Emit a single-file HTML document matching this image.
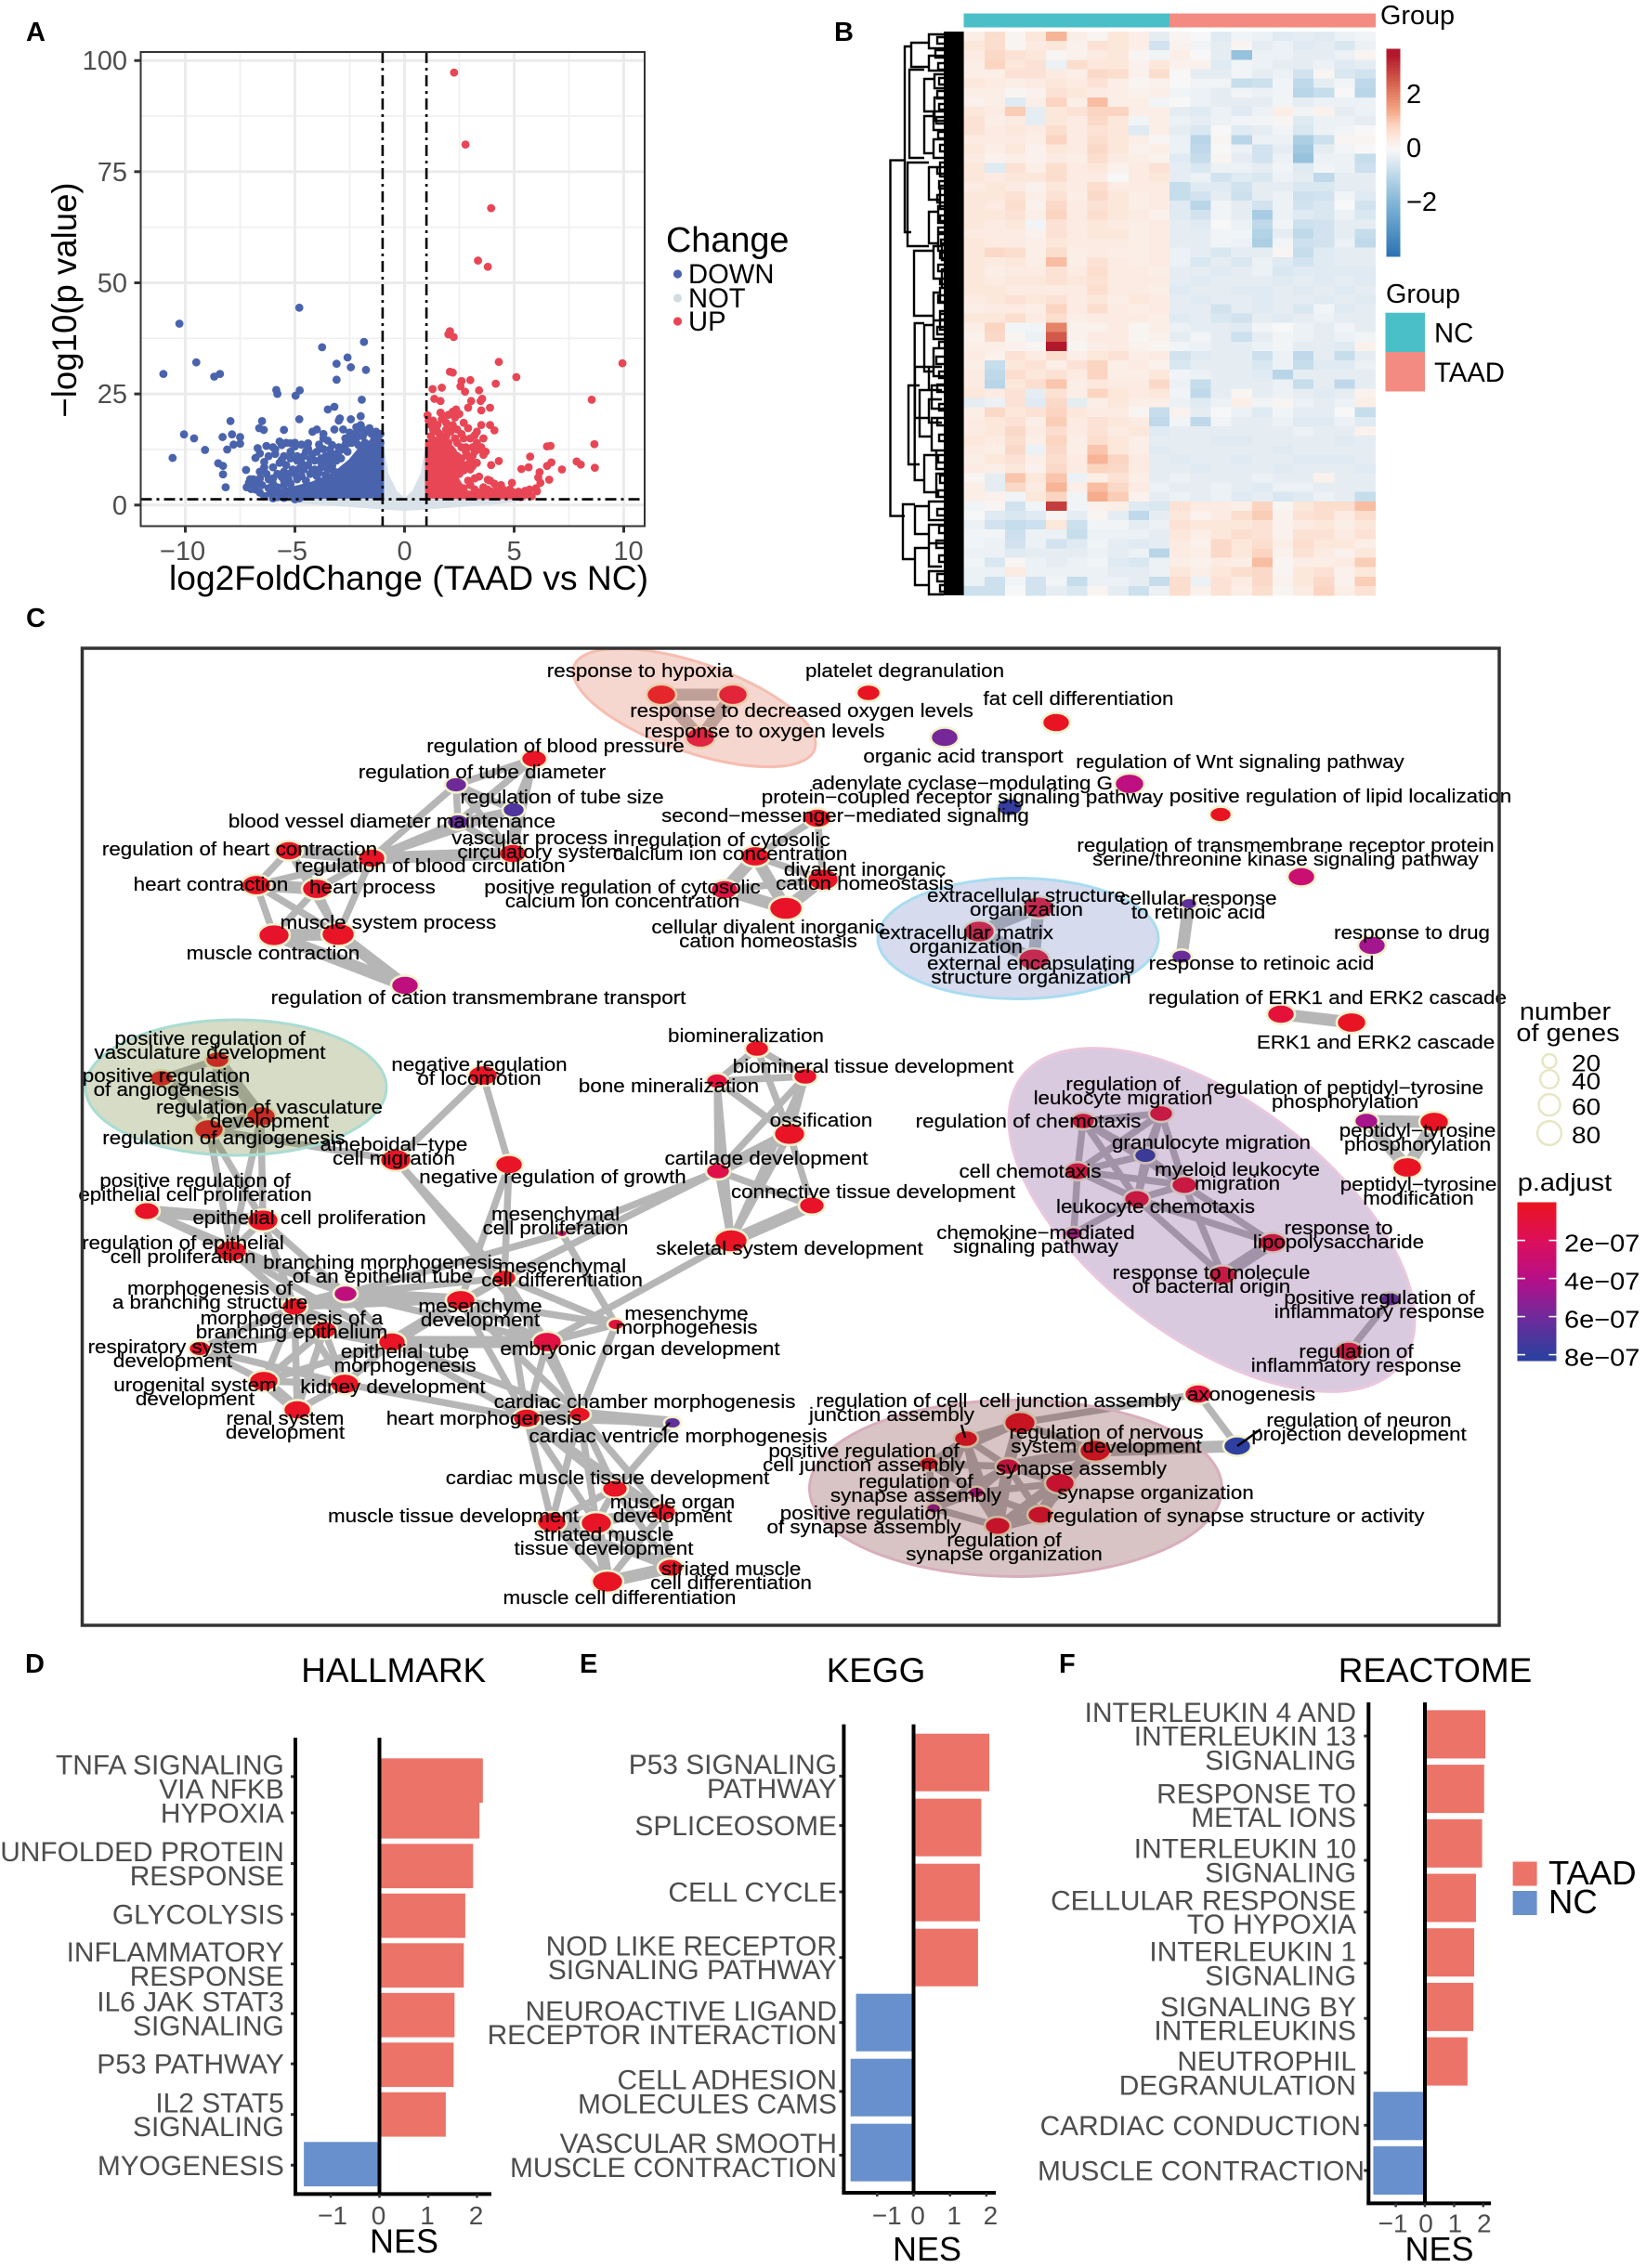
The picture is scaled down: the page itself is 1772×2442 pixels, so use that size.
<!DOCTYPE html>
<html lang="en">
<head>
<meta charset="utf-8">
<title>TAAD vs NC transcriptomic analysis figure</title>
<style>
html,body{margin:0;padding:0;background:#fff}
svg{display:block;font-family:"Liberation Sans",sans-serif}
</style>
</head>
<body>
<svg id="fig" xmlns="http://www.w3.org/2000/svg" width="1772" height="2442" viewBox="0 0 1772 2442">
<rect x="0" y="0" width="1772" height="2442" fill="#fff"/>
</svg>
<script>
/* ---------- PANEL A DATA: log2FC, -log10(p) ---------- */
const volcanoXTicks=[-10,-5,0,5,10];
const volcanoXMinor=[-7.5,-2.5,2.5,7.5];
const volcanoYTicks=[0,25,50,75,100];
const volcanoYMinor=[12.5,37.5,62.5,87.5];
const notFC=[-6,-4,-2,0,2,4,5.5,1,1,.8,.4,0,-.4,-.8,-1,-1];
const notP=[1.2,.4,-.3,-1,-.3,.4,1.2,1.5,13,7,3,1.2,3,7,13,1.5];
const downMassFC=[-1,-1,-1.5,-2,-2.5,-3,-3.5,-4.2,-5,-6,-6.6,-4];
const downMassP=[1.8,14,14.5,13,10,8,6.5,5,4,3,2.2,1.7];
const upMassFC=[1,1,1.3,1.7,2.2,2.6,2.4,2.8,4.5,5.5,3];
const upMassP=[1.8,14,15,15,13,10,6,3,2.3,1.6,1.6];
const downPoints=[[-4.8,44.4],[-10.27,40.8],[-1.85,36.7],[-3.76,35.5],[-2.6,33.2],[-3.1,31.8],[-9.5,32.1],[-2.45,31],[-1.76,30.4],[-11,29.5],[-8.42,29.5],[-8.68,28.9],[-3.1,28.2],[-5.85,25.9],[-5.8,25],[-4.78,25.8],[-4.97,24.6],[-1.95,23.7],[-3.2,22.1],[-3.5,21.5],[-2,20],[-2.45,19.3],[-2.95,19.5],[-4.8,19.3],[-7.94,18.9],[-6.5,18.9],[-6.63,17.3],[-6.42,16.9],[-5.5,16.9],[-10.06,15.9],[-9.6,15],[-8.3,15.3],[-7.87,15.9],[-7.5,15.3],[-7.5,13.8],[-7.8,13.6],[-8.09,12.5],[-9.1,12.4],[-10.58,10.6],[-8.5,9.4],[-8.28,8.8],[-8.28,6.9],[-8.16,4],[-7.23,7.9],[-7.04,5.8],[-6.7,12.8],[-6.3,13.3],[-6.6,11.6],[-6,13],[-5.7,14.3],[-5.4,14],[-5.2,13.9],[-5,13.2],[-4.7,13.6],[-4.4,13.9],[-4.2,16.5],[-4,17],[-3.7,16],[-3.5,14.5],[-3.2,17],[-3,19],[-2.8,17],[-2.5,16.3],[-2.2,17.5],[-2,18],[-3.7,15],[-3.4,12.5],[-3,13],[-3,12],[-2.7,13.6],[-2.4,14],[-2.2,15],[-1.9,15.5],[-1.7,16.5],[-1.5,16],[-1.2,15],[-6.2,11],[-5.9,11.5],[-5.5,11],[-5.2,10.5],[-4.9,11],[-4.5,12],[-4.2,11.5],[-4,12],[-3.8,10.5],[-3.4,10],[-3.1,10],[-6.4,8.5],[-6,8.5],[-5.7,9.5],[-5.4,9],[-5.1,8],[-4.7,9.5],[-4.4,9],[-4.1,8],[-3.8,8.5],[-3.5,8],[-6.9,5.8],[-6.6,6],[-6.2,5.8],[-6,6],[-5.6,6.3],[-5.3,7],[-5,7],[-4.7,6.5],[-4.3,7],[-4,6.5],[-7.1,5],[-6.8,4.6],[-6.5,4.5],[-6.2,3.8],[-5.8,4],[-5.5,4.5],[-5.2,4.8],[-6.4,2],[-6,1.5],[-5.8,1.8],[-5.5,1.6],[-5,1.3],[-4.8,1.5],[-6.8,3.5],[-5,14],[-5.6,13.5],[-5.9,12.5],[-4.4,12.7],[-3.6,11],[-3.3,8.8],[-2.9,10.5],[-2.6,12],[-3.2,7.5],[-4.5,5.5],[-5.2,3],[-6.1,2.6],[-1.1,14],[-1.4,14.5],[-1.8,14],[-2.1,13.5],[-6.6,2.8],[-7,3.6],[-6,4.8],[-5.5,5.5],[-4.9,5.8],[-4.2,7.8],[-3.8,9.6],[-3.5,9.5],[-3.3,11.3],[-3.1,11.5],[-2.9,12.5],[-2.7,12.5],[-2.4,15.5],[-2.2,16.2],[-1.9,17],[-1.6,17.3],[-1.3,16.5],[-1.1,16],[-2.7,15],[-2.5,14],[-3.3,13.5],[-4.1,10],[-4.6,8],[-5.5,7.5],[-6.3,7],[-6.6,7.5],[-5.8,7],[-4.8,8.2],[-5.3,5.8],[-3.9,7.3],[-3.6,6.8],[-7.2,4],[-6.1,3.4],[-4.9,10],[-5.6,10.2],[-4.3,10.4],[-3.7,12.6],[-3.9,13.6],[-4.6,11],[-5.2,12],[-6.4,9.7],[-6.8,10.6]];
const upPoints=[[2.26,97.3],[2.78,81.1],[3.95,66.8],[3.35,55],[3.8,53.6],[2.07,39.1],[2,38.4],[2.24,37.8],[4.3,32.2],[9.94,31.9],[2.07,30],[2.2,29.8],[5.1,28.8],[3,28.1],[2.6,27.9],[4.16,27.3],[2.55,26.7],[1.28,26.1],[1.7,26.4],[3.4,25.8],[2.76,25.5],[8.54,23.7],[1.36,23.9],[1.64,23.4],[3.54,23.9],[3.47,23.4],[3.04,23.4],[3.9,21.9],[3.5,21.3],[2.9,21.9],[2.35,21.5],[1.64,20.8],[1.05,20.2],[8.66,13.7],[6.5,13.2],[6.66,13.3],[5.73,10.9],[7.85,9.8],[8.04,9.1],[8.68,8.4],[7.18,8],[6.7,9.6],[6.5,8.8],[5.33,8.1],[5.66,8.5],[4.3,9.9],[3.95,9],[6.6,5.7],[6.16,7.4],[6.1,6.2],[6.04,3.1],[1.1,19],[1.2,18],[1.3,17],[1.5,16.5],[1.8,20],[1.7,19.3],[2,20.3],[2.2,21],[2.3,19.7],[2.5,20.5],[2.7,18.5],[2.9,17.3],[3.5,18],[3.9,18],[4.1,16.8],[3.3,16.5],[3.2,15.7],[3.6,15],[3.3,14],[3.5,13],[3.4,12.5],[3.7,12],[3.6,11.3],[3.1,11],[2.9,11],[2.6,10.5],[2.4,11],[2.2,12],[3.3,9.5],[3.1,8.7],[3,8],[2.7,7.8],[2.5,7],[2.2,6.5],[3.4,6.4],[3.8,5.7],[3.9,5.5],[4.1,4.8],[4.4,4.5],[4.9,5],[4.5,3.5],[4.8,3.5],[5.2,3],[5.4,2.5],[5.8,2],[5.7,3.5],[6,3.8],[6.2,5],[5.6,2.4],[4,3],[3.5,3],[3.2,3.5],[3,4.5],[2.7,3.8],[2.4,3.4],[2.1,4],[2.6,16],[2.3,15],[2,14],[2.8,13],[1.9,17],[2.2,18],[3,15],[4.2,3.2],[4.7,2.4],[5,2],[5.3,1.8],[3.7,2.6],[4.9,3],[5.5,3.2],[1.2,15.5],[1.4,14.5],[1.6,16],[1.9,15.5],[2.1,16.5],[2.4,14],[2.6,13],[2.8,12],[1.3,19],[1.5,18],[1.9,18.5],[2.4,17],[2.7,15],[3.1,13],[3.2,12],[3,9.8],[2.8,9],[2.6,8.8],[3.2,6],[2.9,5.5],[3.6,4],[3.8,3.5],[4.3,2.6]];

/* ---------- PANEL B DATA: z-score x10, rows top to bottom, 20 samples ---------- */
const heatGroups=["NC","NC","NC","NC","NC","NC","NC","NC","NC","NC","TAAD","TAAD","TAAD","TAAD","TAAD","TAAD","TAAD","TAAD","TAAD","TAAD"];
const heatColorTicks=[2,0,-2];
const heatRows=[
[3,7,1,5,13,3,1,5,3,-3,1,0,-4,-1,-2,-4,-3,-4,-2,-1],
[5,7,1,4,5,2,6,5,3,-6,2,-1,-3,1,-3,-2,-4,-3,-5,-2],
[4,8,6,5,1,2,4,5,1,-1,3,0,-3,-16,-2,-2,-3,-3,-2,1],
[3,9,5,6,-2,7,5,5,2,5,2,2,-4,-1,-2,-3,-3,-2,-4,-3],
[3,3,6,6,4,3,8,7,2,7,0,-3,-3,-1,-3,-2,-6,1,-5,-6],
[5,4,3,4,5,4,6,3,1,2,0,-1,-1,-8,-7,-1,-9,-3,-1,-9],
[3,3,1,2,6,5,4,3,2,3,-1,-2,-3,-1,-2,-1,-10,-8,0,-10],
[2,3,-4,3,9,3,12,3,3,-1,0,-2,-3,-3,-3,-1,-3,-2,-2,-2],
[5,4,10,-3,5,6,9,9,3,3,-3,-4,-2,-4,-2,3,-1,2,-3,-2],
[6,3,4,-3,5,4,8,5,-1,3,-2,-3,-2,-1,-1,1,-4,-2,-2,-3],
[6,4,5,4,7,4,6,5,-4,3,-3,-5,0,-4,-3,-1,-5,-2,-1,0],
[4,4,4,3,9,4,7,5,3,1,-2,-10,1,-10,-2,-2,-12,-7,1,1],
[5,3,5,2,5,4,8,5,2,3,-2,-9,0,-2,-6,-3,-14,-3,-1,0],
[4,2,3,2,4,3,7,4,3,2,-4,-8,1,-3,-6,-2,-16,-2,-2,-8],
[5,-4,6,3,7,4,5,2,4,6,-3,-5,-2,-2,-3,-1,-4,-1,-2,-7],
[5,4,5,5,7,4,4,0,4,5,-3,-2,-6,-4,-5,-2,-3,-9,-3,-3],
[4,5,4,2,5,4,7,4,4,4,-8,-4,-4,-6,-3,-3,-5,-5,-3,-3],
[5,5,6,3,6,3,8,5,3,4,-8,-6,-3,-7,-3,-2,-7,-6,-1,-4],
[5,4,7,2,8,4,6,5,3,4,-4,-10,-1,-3,-6,-2,-6,-5,0,-6],
[5,5,6,3,9,4,7,5,4,2,-4,-6,-1,-3,-13,-2,-4,-5,-2,-5],
[5,4,5,-1,6,4,5,4,3,4,-3,-4,0,-2,-9,-1,-7,-6,-3,-3],
[4,4,4,2,6,4,5,5,3,4,-3,-3,-1,-1,-11,-3,-9,-6,-3,-8],
[5,4,4,3,5,4,4,4,3,4,-3,-3,-1,-2,-12,-1,-7,-6,-2,-9],
[5,8,7,3,7,3,4,3,3,4,-2,-3,-5,-3,-3,1,-8,-4,-3,-3],
[5,4,5,3,12,3,6,4,3,4,-2,-5,-3,-5,-2,-4,-6,-4,-3,-3],
[5,3,4,4,6,4,7,4,4,3,-3,-3,-4,-3,-2,-5,-4,-4,-4,-4],
[5,4,5,5,6,5,6,4,4,4,-3,-4,-3,-3,-3,-4,-3,-4,-3,-4],
[5,5,4,4,4,4,7,4,4,3,-4,-3,-3,-4,-4,-3,-4,-3,-4,-3],
[4,5,6,5,6,4,5,3,5,4,-3,-4,-3,-3,-4,-3,-3,-4,-3,-4],
[3,4,4,3,9,4,7,4,3,4,-3,-3,-6,-3,-4,-3,-5,-1,-4,-3],
[5,5,7,4,7,3,4,4,4,3,-4,-3,-5,-6,-3,-4,-3,-2,-3,-3],
[3,9,-1,-1,20,2,2,4,1,3,-2,-3,-3,-4,-1,0,-2,-3,-1,-3],
[2,8,1,-2,26,2,4,4,1,2,-3,-1,-3,-7,-3,-1,-2,-3,-2,-1],
[3,3,2,1,35,1,3,4,2,1,-1,-2,-3,-3,-2,-1,-3,-3,-4,2],
[4,2,6,4,7,3,5,6,3,4,-6,-4,-3,-3,-7,-2,-9,-3,-8,-3],
[3,-8,5,6,3,6,9,3,4,2,-5,-3,-3,-3,-5,-2,-8,-4,-4,-2],
[4,-9,7,5,6,4,9,3,3,5,-1,-2,-3,-3,-4,-10,-3,-3,-3,-3],
[4,-10,5,7,11,3,5,4,4,8,-2,-8,-3,-3,-3,-2,-8,-3,-9,-3],
[5,4,6,-3,6,3,9,5,4,5,-1,-9,-3,1,-3,-2,-3,-4,-3,2],
[-3,-2,6,-4,8,-3,3,5,3,3,-2,-4,-2,3,-1,1,-2,-3,-2,3],
[3,8,5,6,9,5,4,4,1,-8,2,-3,0,-2,-4,-1,-3,-3,0,-8],
[4,5,6,3,10,4,6,5,4,-9,-1,-9,-1,-3,-3,-2,-4,-4,-2,-4],
[4,5,8,4,7,4,6,4,5,-4,-3,-3,-3,-3,-3,-3,-2,-3,-3,2],
[5,4,7,3,9,3,7,5,3,-3,-3,-3,-4,-4,-3,-3,-3,-3,-4,-3],
[4,3,8,-2,8,3,11,5,3,-4,-3,-3,-3,-3,-3,-4,-3,-3,-3,-3],
[3,5,6,3,7,4,13,9,4,-3,-4,-3,-3,-4,-3,-3,-4,-4,-4,-3],
[4,3,5,2,8,4,9,8,4,-3,-3,-4,-3,-3,-3,-4,-3,-3,-3,-4],
[1,-3,11,5,11,-2,3,6,3,-3,-2,-3,-3,-3,-2,-3,-3,2,-3,-3],
[3,-3,8,4,13,3,12,8,4,-2,-3,-3,-2,-3,-4,-2,-2,-3,-3,-3],
[3,2,-1,5,9,-1,14,10,2,-3,-2,-3,-2,-4,-3,-5,-4,-2,-3,-8],
[-1,1,-6,-1,30,-1,2,3,-4,-5,6,4,4,3,9,1,5,7,7,12],
[0,-4,-5,-4,1,-3,1,-3,-9,-3,5,2,4,7,10,2,6,7,4,7],
[-2,-6,-8,-7,5,-7,-1,-1,-3,-2,6,5,5,5,6,2,4,5,3,5],
[-1,-1,-7,-2,-2,-8,-2,-2,-2,-3,5,3,5,7,6,2,6,6,4,6],
[-1,-2,-6,-2,-6,-4,-1,-3,-4,-3,4,2,8,5,7,3,7,5,5,3],
[-2,-2,-4,-3,-3,-3,-2,-3,-2,-10,4,3,8,5,9,2,6,4,2,5],
[-1,-5,1,-2,-3,-2,-1,-4,-5,-2,3,2,4,3,12,1,3,3,4,10],
[-2,-2,4,-2,-2,-2,-2,-3,-3,-2,5,3,5,7,8,1,5,6,2,5],
[-2,-7,-1,-6,-1,-8,-2,-2,-3,-8,7,-2,6,4,8,2,5,8,2,10],
[-7,-7,0,-6,-3,-5,1,-3,-7,-2,7,2,6,3,7,1,4,9,3,6]];
const dendroBrackets=[[958.5,172.6,555.6,974],[974,50,250,981],[972,543,602,985],[981,46,72,1000],[1000,37,52,1016],[1000,60,76,1016],[979,75,170,995],[995,85,120,1006],[1006,80,95,1016],[1006,105,130,1016],[995,125,165,1005],[1005,120,140,1016],[1005,150,170,1016],[977,175,265,1000],[1000,180,215,1012],[1012,175,190,1016],[1012,200,225,1016],[1000,228,262,1010],[1010,222,240,1016],[1010,250,270,1016],[984,270,340,1005],[1005,265,300,1014],[1014,262,280,1018],[1014,290,310,1018],[1005,315,345,1012],[1012,310,325,1018],[1012,335,355,1018],[984.7,348,517,995],[995,350,400,1005],[1005,345,365,1016],[1005,375,405,1016],[985,395,450,1000],[1000,395,420,1014],[1000,430,455,1014],[978,415,500,990],[990,420,470,1003],[1003,415,440,1016],[1003,450,485,1016],[995,490,530,1008],[1008,485,505,1018],[1008,510,535,1018],[985,545,575,1000],[1000,540,560,1016],[1000,565,585,1016],[985,590,630,1000],[1000,585,610,1014],[1000,615,640,1016],[1009,40,47,1016],[1007,54,62,1016],[1010,68,75,1016],[1011,84,91,1016],[1009,98,106,1016],[1011,112,118,1016],[1008,126,133,1016],[1010,142,149,1016],[1012,156,163,1016],[1009,180,187,1016],[1011,195,203,1016],[1009,210,218,1016],[1012,232,238,1016],[1010,245,252,1016],[1013,258,264,1016],[1012,272,278,1016],[1010,285,292,1016],[1012,300,306,1016],[1010,318,326,1016],[1012,338,344,1016],[1009,352,360,1016],[1011,368,375,1016],[1008,384,392,1016],[1011,400,407,1016],[1009,414,422,1016],[1011,435,442,1016],[1009,450,458,1016],[1011,468,475,1016],[1010,490,498,1016],[1012,512,520,1016],[1010,528,535,1016],[1009,548,555,1016],[1011,566,574,1016],[1008,582,590,1016],[1011,598,605,1016],[1009,618,626,1016],[1012,630,637,1016]];

/* ---------- PANEL C DATA: enrichment map (one entry per GO term, same order in each array) ---------- */
const nodeLabels=["response to hypoxia","response to decreased oxygen levels","response to oxygen levels","regulation of blood pressure","regulation of tube diameter","regulation of tube size","blood vessel diameter maintenance","vascular process in|circulatory system","regulation of heart contraction","regulation of blood circulation","heart contraction","heart process","muscle system process","muscle contraction","regulation of cation transmembrane transport","second−messenger−mediated signaling","regulation of cytosolic|calcium ion concentration","divalent inorganic|cation homeostasis","positive regulation of cytosolic|calcium ion concentration","cellular divalent inorganic|cation homeostasis","platelet degranulation","fat cell differentiation","organic acid transport","regulation of Wnt signaling pathway","adenylate cyclase−modulating G|protein−coupled receptor signaling pathway","positive regulation of lipid localization","regulation of transmembrane receptor protein|serine/threonine kinase signaling pathway","cellular response|to retinoic acid","response to retinoic acid","response to drug","regulation of ERK1 and ERK2 cascade","ERK1 and ERK2 cascade","extracellular structure|organization","extracellular matrix|organization","external encapsulating|structure organization","positive regulation of|vasculature development","positive regulation|of angiogenesis","regulation of vasculature|development","regulation of angiogenesis","negative regulation|of locomotion","biomineralization","biomineral tissue development","bone mineralization","ossification","cartilage development","connective tissue development","skeletal system development","ameboidal−type|cell migration","negative regulation of growth","positive regulation of|epithelial cell proliferation","epithelial cell proliferation","regulation of epithelial|cell proliferation","mesenchymal|cell proliferation","branching morphogenesis|of an epithelial tube","mesenchymal|cell differentiation","mesenchyme|development","morphogenesis of|a branching structure","morphogenesis of a|branching epithelium","epithelial tube|morphogenesis","embryonic organ development","mesenchyme|morphogenesis","respiratory system|development","urogenital system|development","kidney development","renal system|development","heart morphogenesis","cardiac chamber morphogenesis","cardiac ventricle morphogenesis","cardiac muscle tissue development","muscle organ|development","muscle tissue development","striated muscle|tissue development","striated muscle|cell differentiation","muscle cell differentiation","regulation of|leukocyte migration","regulation of chemotaxis","granulocyte migration","cell chemotaxis","myeloid leukocyte|migration","leukocyte chemotaxis","chemokine−mediated|signaling pathway","response to|lipopolysaccharide","response to molecule|of bacterial origin","positive regulation of|inflammatory response","regulation of|inflammatory response","regulation of peptidyl−tyrosine|phosphorylation","peptidyl−tyrosine|phosphorylation","peptidyl−tyrosine|modification","axonogenesis","regulation of neuron|projection development","cell junction assembly","regulation of cell|junction assembly","regulation of nervous|system development","positive regulation of|cell junction assembly","synapse assembly","synapse organization","regulation of|synapse assembly","positive regulation|of synapse assembly","regulation of synapse structure or activity","regulation of|synapse organization"];
const nodeLayoutX=[712,789,754,575,491,553,493,552,311,400,276,341,364,295,436,880,813,886,780,846,935,1137,1017,1216,1087,1314,1401,1280,1272,1477,1379,1455,1118,1054,1113,234,174,281,225,520,815,867,772,850,773,874,787,426,548,158,283,249,605,372,543,496,317,349,422,589,663,215,284,371,320,567,624,724,662,714,594,642,722,654,1250,1166,1233,1160,1275,1224,1156,1370,1316,1497,1452,1471,1544,1515,1290,1332,1098,1040,1179,1000,1085,1141,1051,1005,1120,1074];
const nodeLayoutY=[748,748,794,817,845,872,885,919,916,924,953,957,1006,1007,1061,881,922,947,958,978,746,778,794,844,869,877,944,973,1030,1018,1092,1101,977,1003,1033,1141,1161,1202,1216,1158,1129,1159,1164,1221,1261,1298,1336,1249,1254,1304,1314,1347,1328,1393,1376,1400,1407,1432,1445,1445,1426,1452,1487,1490,1518,1527,1523,1532,1603,1628,1639,1640,1688,1703,1199,1207,1244,1261,1276,1291,1328,1338,1373,1399,1455,1207,1208,1257,1501,1557,1532,1549,1562,1576,1579,1597,1607,1624,1631,1643];
const nodeGenes=[91,91,91,69,51,51,51,80,80,80,91,91,115,102,80,80,91,102,80,115,60,80,80,91,69,51,80,29,43,80,80,91,102,102,102,60,60,91,91,91,60,60,51,102,60,69,115,102,80,69,102,102,13,60,60,91,69,69,80,91,29,51,91,91,80,80,51,29,69,69,91,102,69,102,60,60,51,69,69,69,35,80,80,43,80,60,91,91,80,80,102,60,102,43,60,91,29,23,69,69];
const nodePadj=[.2,.8,1.2,.2,6,7,6.3,.3,.2,.2,.2,.3,.2,.4,3.5,.2,.3,.2,1.2,.3,.1,.1,5.8,3.6,7.8,.1,3,6.5,6.2,4.5,.9,.1,.5,.5,.5,.2,.2,.2,.2,.2,.2,.4,1,.2,1.4,.3,.2,.2,.2,.3,.2,.2,3,3.5,.2,.2,.2,.2,.2,1.2,.9,.4,.1,.2,.2,.2,.2,6.4,.2,.2,.2,.2,.2,.1,.6,.4,8,.4,.4,.6,3.6,.4,.6,6.4,.5,4.4,.1,.1,1,8,.2,.2,.2,.2,1.6,.9,4,5,.6,.6];
const labelSpotX=[689,863,823,598,519,605,422,582,258,463,227,401,418,294,515,910,786,931,670,827,974,1161,1037,1335,1036,1443,1384,1290,1358,1520,1429,1481,1105,1040,1110,226,179,290,241,516,803,940,720,884,825,940,850,424,595,210,333,197,598,412,605,517,226,314,436,689,739,186,210,423,307,521,694,730,654,724,488,650,787,667,1209,1107,1304,1109,1332,1244,1115,1441,1304,1485,1460,1448,1526,1527,1347,1463,1163,960,1191,930,1164,1244,986,930,1330,1081];
const labelSpotY=[729,772,794,810,838,865,891,909,921,939,959,962,1000,1033,1081,885,911,943,962,1005,729,759,821,827,850,864,917,974,1044,1011,1081,1129,971,1011,1044,1125,1165,1199,1232,1153,1122,1155,1176,1213,1254,1290,1351,1239,1274,1278,1318,1345,1314,1366,1370,1413,1394,1426,1462,1459,1421,1457,1498,1500,1534,1534,1516,1553,1598,1624,1639,1659,1696,1727,1174,1214,1237,1268,1266,1306,1334,1329,1377,1404,1462,1178,1224,1282,1508,1536,1515,1515,1549,1569,1588,1614,1602,1636,1639,1665];
const thickEdges=[[1,2],[1,3],[2,3],[8,10],[9,10],[11,12],[13,14],[14,15],[13,15],[17,19],[17,20],[18,20],[19,20],[33,34],[33,35],[34,35],[28,29],[31,32],[36,38],[38,39],[46,47],[44,45],[50,51],[54,56],[56,59],[57,58],[58,59],[54,57],[59,60],[63,65],[66,67],[67,68],[71,72],[73,74],[72,74],[82,83],[86,87],[87,88],[86,88],[90,93],[91,95],[93,95],[93,96],[96,99],[99,100],[95,100]];
const thinEdges=[[4,5],[4,6],[4,7],[4,8],[5,6],[5,7],[5,10],[5,8],[6,7],[6,8],[7,8],[7,10],[6,10],[9,11],[9,12],[9,13],[10,11],[10,12],[10,13],[11,13],[11,14],[12,13],[12,14],[16,17],[16,18],[17,18],[18,19],[36,37],[36,39],[37,38],[37,39],[39,51],[39,52],[38,51],[38,52],[39,48],[40,48],[40,49],[48,55],[48,60],[49,56],[49,55],[41,42],[41,43],[41,44],[42,43],[42,44],[42,45],[43,44],[43,45],[43,47],[42,47],[44,46],[44,47],[45,46],[45,47],[45,55],[47,60],[50,52],[50,54],[51,52],[51,57],[51,54],[52,57],[52,54],[52,58],[52,59],[54,55],[54,58],[54,59],[54,60],[55,56],[55,61],[55,59],[55,60],[56,57],[56,60],[56,61],[57,59],[57,62],[57,63],[57,64],[58,62],[58,63],[58,64],[58,65],[59,63],[59,64],[59,66],[62,63],[62,64],[63,64],[64,65],[64,66],[57,65],[60,61],[60,66],[60,67],[56,66],[56,67],[53,61],[53,54],[53,45],[55,66],[55,67],[61,67],[59,67],[66,68],[66,69],[66,70],[66,71],[66,72],[67,69],[67,70],[67,71],[67,72],[68,69],[69,70],[69,71],[69,72],[70,71],[70,72],[70,73],[71,74],[72,73],[69,73],[70,74],[71,73],[75,76],[75,77],[75,78],[75,79],[75,80],[76,77],[76,78],[76,79],[76,80],[77,78],[77,79],[77,80],[78,79],[78,80],[78,81],[79,80],[80,81],[79,82],[80,82],[80,83],[79,83],[84,85],[91,92],[91,93],[91,94],[92,94],[92,95],[92,97],[92,98],[92,100],[93,99],[93,100],[94,95],[94,97],[94,98],[95,96],[95,97],[95,98],[95,99],[96,97],[96,100],[97,98],[97,99],[97,100],[98,100],[89,91],[89,90]];
const geneLegend=[20,40,60,80];
const padjLegend=[2,4,6,8];

/* ---------- PANEL D/E/F DATA: NES ---------- */
const nesTicks=[-1,0,1,2];
const hallmarkTerms=["TNFA SIGNALING|VIA NFKB","HYPOXIA","UNFOLDED PROTEIN|RESPONSE","GLYCOLYSIS","INFLAMMATORY|RESPONSE","IL6 JAK STAT3|SIGNALING","P53 PATHWAY","IL2 STAT5|SIGNALING","MYOGENESIS"];
const hallmarkNES=[2.12,2.05,1.92,1.76,1.73,1.54,1.52,1.36,-1.55];
const hallmarkRows=[.28,1,2,3,4,5,6,7,8];
const hallmarkLabelRows=[.2,.93,1.95,2.97,3.97,4.97,5.98,7,8.02];
const keggTerms=["P53 SIGNALING|PATHWAY","SPLICEOSOME","CELL CYCLE","NOD LIKE RECEPTOR|SIGNALING PATHWAY","NEUROACTIVE LIGAND|RECEPTOR INTERACTION","CELL ADHESION|MOLECULES CAMS","VASCULAR SMOOTH|MUSCLE CONTRACTION"];
const keggNES=[2.08,1.86,1.82,1.77,-1.58,-1.73,-1.73];
const keggRows=[0,1,2,3,4,5,6];
const keggLabelRows=[.21,.97,1.99,3,4,5.06,6.04];
const reactomeTerms=["INTERLEUKIN 4 AND|INTERLEUKIN 13|SIGNALING","RESPONSE TO|METAL IONS","INTERLEUKIN 10|SIGNALING","CELLULAR RESPONSE|TO HYPOXIA","INTERLEUKIN 1|SIGNALING","SIGNALING BY|INTERLEUKINS","NEUTROPHIL|DEGRANULATION","CARDIAC CONDUCTION","MUSCLE CONTRACTION"];
const reactomeNES=[2.07,2.03,1.96,1.75,1.69,1.66,1.46,-1.77,-1.77];
const reactomeRows=[0,1,2,3,4,5,6,7,8];
const reactomeLabelRows=[.03,1.3,2.31,3.26,4.2,5.21,6.21,7.17,8];

/* ---------- helpers ---------- */
const NS='http://www.w3.org/2000/svg';
const svg=document.getElementById('fig');
function mk(tag,attrs,parent){
  const el=document.createElementNS(NS,tag);
  for(const k in attrs)el.setAttribute(k,attrs[k]);
  (parent||svg).appendChild(el);
  return el;
}
function group(name,parent){
  const g=mk('g',{},parent);
  
  
  return g;
}
function line(name,x1,y1,x2,y2,stroke,w,dash,parent){
  const a={x1:x1,y1:y1,x2:x2,y2:y2,stroke:stroke,'stroke-width':w};
  if(dash)a['stroke-dasharray']=dash;
  const el=mk('line',a,parent);
  
  
  return el;
}
function label(name,str,x,y,size,anchor,fill,sy,parent,extra){
  const a={transform:'translate('+x+','+y+') scale(1,'+(sy||1)+')','font-size':size,'text-anchor':anchor||'start',fill:fill||'#000'};
  if(extra)for(const k in extra)a[k]=extra[k];
  const el=mk('text',a,parent);
  el.textContent=str;
  
  
  return el;
}
function slug(s){return s.toLowerCase().replace(/[^a-z0-9]+/g,'-').replace(/^-|-$/g,'');}
function hexLerp(stops,v){
  if(v<=stops[0][0])return stops[0][1];
  for(let i=1;i<stops.length;i++){
    if(v<=stops[i][0]){
      const t=(v-stops[i-1][0])/(stops[i][0]-stops[i-1][0]);
      const a=stops[i-1][1],b=stops[i][1];
      let out='rgb(';
      for(let c=0;c<3;c++){
        const p=parseInt(a.substr(1+c*2,2),16),q=parseInt(b.substr(1+c*2,2),16);
        out+=Math.round(p+(q-p)*t)+(c<2?',':')');
      }
      return out;
    }
  }
  return stops[stops.length-1][1];
}

/* panel letters */
[["A",28,44],["B",898,44],["C",28,675],["D",27,1801],["E",624,1801],["F",1140,1801]].forEach(function(p){
  label('panel-label-'+p[0].toLowerCase(),p[0],p[1],p[2],29,'start','#000',1,svg,{'font-weight':'bold'});
});

/* ---------- PANEL A ---------- */
(function(){
  const g=group('volcano-plot');
  const X=function(v){return 435.5+v*23.6;};
  const Y=function(v){return 543.8-v*4.786;};
  const L=151.5,R=694,T=56,B=566.5;
  const frameBg=mk('rect',{x:L,y:T,width:R-L,height:B-T,fill:'#fff'},g);
  
  
  volcanoXMinor.forEach(function(v){line('volcano-x-gridline-minor',X(v),T,X(v),B,'#efefef',1.6,null,g);});
  volcanoYMinor.forEach(function(v){line('volcano-y-gridline-minor',L,Y(v),R,Y(v),'#efefef',1.6,null,g);});
  volcanoXTicks.forEach(function(v){line('volcano-x-gridline',X(v),T,X(v),B,'#ebebeb',3,null,g);});
  volcanoYTicks.forEach(function(v){line('volcano-y-gridline',L,Y(v),R,Y(v),'#ebebeb',3,null,g);});
  function poly(name,xs,ys,fill){
    const el=mk('polygon',{points:xs.map(function(x,i){return X(x)+','+Y(ys[i]);}).join(' '),fill:fill,stroke:fill,'stroke-width':3,'stroke-linejoin':'round'},g);
    
    
  }
  poly('not-significant-cloud',notFC,notP,'#d9e1e9');
  poly('down-dense-cloud',downMassFC,downMassP,'#4a63ad');
  poly('up-dense-cloud',upMassFC,upMassP,'#e84655');
  downPoints.forEach(function(p){
    const c=mk('circle',{cx:X(p[0]),cy:Y(p[1]),r:4.4,fill:'#4a63ad'},g);
    
    
  });
  upPoints.forEach(function(p){
    const c=mk('circle',{cx:X(p[0]),cy:Y(p[1]),r:4.4,fill:'#e84655'},g);
    
    
  });
  line('fold-change-threshold-left',X(-1),T,X(-1),B,'#000',2.6,'12 5 3 5',g);
  line('fold-change-threshold-right',X(1),T,X(1),B,'#000',2.6,'12 5 3 5',g);
  line('p-value-threshold',L,Y(1.3),R,Y(1.3),'#000',2.6,'12 5 3 5',g);
  const fr=mk('rect',{x:L,y:T,width:R-L,height:B-T,fill:'none',stroke:'#333','stroke-width':2},g);
  
  
  volcanoYTicks.forEach(function(v){
    line('volcano-y-tick',L-7,Y(v),L,Y(v),'#333',3,null,g);
    label('volcano-y-tick-label',String(v),137,Y(v)+10,29,'end','#4d4d4d',1,g);
  });
  volcanoXTicks.forEach(function(v){
    line('volcano-x-tick',X(v),B,X(v),B+7,'#333',3,null,g);
    label('volcano-x-tick-label',String(v).replace('-','−'),X(v)+(v<0?-3:0)+(v===10?5:0),603,29,'middle','#4d4d4d',1,g);
  });
  label('volcano-x-axis-title','log2FoldChange (TAAD vs NC)',440,635,37.2,'middle','#000',1,g);
  const yt=mk('text',{transform:'translate(82,323) rotate(-90)','font-size':36.6,'text-anchor':'middle',fill:'#000'},g);
  yt.textContent='−log10(p value)';
  
  
  label('volcano-legend-title','Change',717,271,37.8,'start','#000',1,g);
  [['DOWN','#4a63ad',295],['NOT','#d3dbe3',321],['UP','#e84655',346]].forEach(function(e){
    const c=mk('circle',{cx:729.5,cy:e[2],r:4.6,fill:e[1]},g);
    
    
    label('volcano-legend-label',e[0],741,e[2]+10,29.2,'start','#000',1,g);
  });
})();

/* ---------- PANEL B ---------- */
(function(){
  const g=group('expression-heatmap');
  const L=1037.6,R=1480.7,T=34,B=641;
  const cw=(R-L)/heatGroups.length,rh=(B-T)/heatRows.length;
  const groupColor={NC:'#4abfc7',TAAD:'#f48b82'};
  const stops=[[-4,'#2a71b2'],[-2,'#7fb4d6'],[-1,'#b9d6e8'],[-.4,'#dfeaf2'],[0,'#f7f7f7'],[.4,'#fcebe2'],[.9,'#fbd5c1'],[1.5,'#f4a582'],[2.5,'#d6604d'],[3.5,'#b2182b']];
  heatGroups.forEach(function(gr,i){
    const r=mk('rect',{x:L+i*cw,y:14.3,width:cw+.3,height:15.2,fill:groupColor[gr],'shape-rendering':'crispEdges'},g);
    
    
  });
  heatRows.forEach(function(row,ri){
    row.forEach(function(v,ci){
      const r=mk('rect',{x:L+ci*cw,y:T+ri*rh,width:cw+.3,height:rh+.3,fill:hexLerp(stops,v/10),'shape-rendering':'crispEdges'},g);
      
      
    });
  });
  const dg=group('gene-dendrogram',g);
  const blk=mk('rect',{x:1016,y:T,width:L-1016,height:B-T,fill:'#000'},dg);
  
  
  let d='';
  dendroBrackets.forEach(function(b){d+='M'+b[3]+' '+b[1]+'H'+b[0]+'V'+b[2]+'H'+b[3];});
  const dp=mk('path',{d:d,fill:'none',stroke:'#000','stroke-width':2.4},dg);
  
  
  label('annotation-group-label','Group',1486,26,28.8,'start','#000',1,g);
  const cbY=function(z){return 160-z*29;};
  for(let z=3.7;z>-4;z-=.1){
    const r=mk('rect',{x:1492.6,y:cbY(z),width:14.8,height:3.3,fill:hexLerp(stops,z),'shape-rendering':'crispEdges'},g);
    
    
  }
  heatColorTicks.forEach(function(t){
    label('colorbar-tick-label',String(t).replace('-','−'),1514,cbY(t)+9,29,'start','#000',1,g);
  });
  label('group-legend-title','Group',1492,326,28.8,'start','#000',1,g);
  [['NC',336.7,358.6],['TAAD',379,401]].forEach(function(e){
    const r=mk('rect',{x:1491.5,y:e[1],width:42.5,height:42.5,fill:groupColor[e[0]]},g);
    
    
    label('group-legend-label',e[0],1544,e[2]+10,29.3,'start','#000',1,g);
  });
})();

/* ---------- PANEL C ---------- */
(function(){
  const g=group('enrichment-map');
  const gx=function(v){return v;};
  const gy=function(v){return v;};
  const radius=function(n){return 1.68*Math.sqrt(n);};
  const padjStops=[[0,'#ea1420'],[2,'#dc0f5a'],[4,'#b50f88'],[6,'#6f2a9a'],[8,'#2e3f9f']];
  const bg=mk('rect',{x:88.5,y:698,width:1525.5,height:1052,fill:'#fff'},g);
  
  
  function edge(pair,w){
    const a=pair[0]-1,b=pair[1]-1;
    const el=line('network-edge',gx(nodeLayoutX[a]),gy(nodeLayoutY[a]),gx(nodeLayoutX[b]),gy(nodeLayoutY[b]),'#b6b6b6',w,null,g);
    el.setAttribute('stroke-linecap','round');
  }
  thinEdges.forEach(function(p){edge(p,7.5);});
  thickEdges.forEach(function(p){edge(p,13);});
  nodeLabels.forEach(function(t,i){
    const rx=radius(nodeGenes[i]);
    const n=mk('ellipse',{cx:gx(nodeLayoutX[i]),cy:gy(nodeLayoutY[i]),rx:rx,ry:rx*.7,fill:hexLerp(padjStops,nodePadj[i]),stroke:'#f1f2cc','stroke-width':2.6},g);
    
    
  });
  [
    ['cluster-hypoxia',747.5,762,137,48,19,'rgb(219,95,63)','#f6bdb0'],
    ['cluster-extracellular-matrix',1096,1010.5,151,65,0,'rgb(91,111,187)','#a9dcf0'],
    ['cluster-angiogenesis',254,1171,162,73,0,'rgb(95,115,27)','#a9dcd2'],
    ['cluster-leukocyte-migration',1304.5,1313.5,256,128,37,'rgb(103,43,127)','#eac8de'],
    ['cluster-synapse',1093.5,1602.5,222,95,0,'rgb(100,19,19)','#d8aebc']
  ].forEach(function(c){
    const e=mk('ellipse',{cx:c[1],cy:c[2],rx:c[3],ry:c[4],transform:'rotate('+c[5]+' '+c[1]+' '+c[2]+')',fill:c[6],'fill-opacity':.25,stroke:c[7],'stroke-width':3},g);
    
    
  });
  nodeLabels.forEach(function(t,i){
    t.split('|').forEach(function(s,k){
      label('term-label-'+slug(s),s,labelSpotX[i],labelSpotY[i]+k*14.8,22.4,'middle','#000',.9,g,{stroke:'#000','stroke-width':.2});
    });
  });
  [[1035,1534,1039,1548],[1357,1539,1332,1557],[721,1532,713,1540]].forEach(function(s){
    line('label-leader-line',s[0],s[1],s[2],s[3],'#000',2.4,null,g);
  });
  const fr=mk('rect',{x:88.5,y:698,width:1525.5,height:1052,fill:'none',stroke:'#333','stroke-width':3.5},g);
  
  

  /* legends */
  label('gene-legend-title-line-1','number',1685,1098,29,'middle','#000',.9,g);
  label('gene-legend-title-line-2','of genes',1688,1121,29,'middle','#000',.9,g);
  const legendR=function(n){return 7.5*Math.pow(n/20,.39);};
  const legendYs=[1142.5,1162,1189.6,1220];
  geneLegend.forEach(function(n,i){
    const c=mk('circle',{cx:1668,cy:legendYs[i],r:legendR(n),fill:'#fff',stroke:'#e6e6c4','stroke-width':2.4},g);
    
    
    label('gene-legend-label',String(n),1692,legendYs[i]+11,28,'start','#000',.9,g);
  });
  label('padjust-legend-title','p.adjust',1633.7,1282,29,'start','#000',.9,g);
  const pY=function(v){return 1294.6+v*20.5;};
  for(let v=0;v<8.2;v+=.1){
    const r=mk('rect',{x:1633.7,y:pY(v),width:42,height:2.6,fill:hexLerp(padjStops,v),'shape-rendering':'crispEdges'},g);
    
    
  }
  padjLegend.forEach(function(v){
    line('padjust-tick-left',1633.7,pY(v),1642,pY(v),'#fff',1.6,null,g);
    line('padjust-tick-right',1667.4,pY(v),1675.7,pY(v),'#fff',1.6,null,g);
    label('padjust-legend-label',v+'e−07',1684,pY(v)+12,29,'start','#000',.9,g);
  });
})();

/* ---------- PANELS D, E, F ---------- */
function barPanel(o){
  const g=group(o.key+'-nes-bar-chart');
  const X=function(v){return o.zero+v*o.unit;};
  const Yc=function(r){return o.row0+r*o.step;};
  label(o.key+'-title',o.title,o.titleX,1811,36.9,'middle','#000',1,g);
  o.terms.forEach(function(t,i){
    const v=o.nes[i];
    const r=mk('rect',{x:Math.min(X(0),X(v)),y:Yc(o.rows[i])-o.bar/2,width:Math.abs(X(v)-X(0)),height:o.bar,fill:v>=0?'#ec7368':'#6790cc'},g);
    
    
    const lines=t.split('|');
    const cy=o.row0+o.labelRows[i]*o.step;
    const nudge=(o.nudge&&o.nudge[i])||0;
    lines.forEach(function(s,k){
      label('term-label-'+slug(s),s,o.labelRight+nudge,cy+(k-(lines.length-1)/2)*25.8+10.5,29.9,'end','#4d4d4d',1,g);
    });
    const tk=line('y-axis-tick',o.axisL-5,cy,o.axisL,cy,'#333',3,null,g);
    tk.setAttribute('stroke-linecap','butt');
  });
  line('y-axis-line',o.axisL,o.top,o.axisL,o.bottom,'#000',4,null,g);
  line('zero-line',o.zero,o.top,o.zero,o.bottom,'#000',4,null,g);
  line('x-axis-line',o.axisL-2,o.bottom,o.axisR,o.bottom,'#000',4,null,g);
  nesTicks.forEach(function(v){
    line('x-axis-tick',X(v),o.bottom,X(v),o.bottom+4,'#333',2.5,null,g);
    label('x-tick-label',String(v).replace('-','−'),X(v)+o.tickShift+(v<0?o.negShift:0),o.tickY,28,'middle','#4d4d4d',1,g);
  });
  label(o.key+'-x-axis-title','NES',o.nesX,o.nesY,36,'middle','#000',1,g);
}
barPanel({key:'hallmark',title:'HALLMARK',titleX:423.7,terms:hallmarkTerms,nes:hallmarkNES,rows:hallmarkRows,labelRows:hallmarkLabelRows,zero:408.5,unit:52.5,row0:1902.2,step:53.5,bar:47.8,labelRight:305.8,axisL:318,axisR:529,top:1871,bottom:2362.4,tickShift:-1,negShift:3,tickY:2395,nesX:435,nesY:2425.5});
barPanel({key:'kegg',title:'KEGG',titleX:943,terms:keggTerms,nes:keggNES,rows:keggRows,labelRows:keggLabelRows,zero:983.5,unit:39.2,row0:1897.7,step:70,bar:62,labelRight:901,axisL:908.4,axisR:1072,top:1856.6,bottom:2361,tickShift:4.5,negShift:6,tickY:2395,nesX:998,nesY:2434});
barPanel({key:'reactome',title:'REACTOME',titleX:1545,terms:reactomeTerms,nes:reactomeNES,rows:reactomeRows,labelRows:reactomeLabelRows,zero:1534,unit:31.4,row0:1867.4,step:58.7,bar:52,labelRight:1460,axisL:1473.3,axisR:1605,top:1833,bottom:2372.4,tickShift:1,negShift:-4,tickY:2403.7,nesX:1549.5,nesY:2434,nudge:{7:5,8:9}});
(function(){
  const g=group('nes-legend');
  [['TAAD','#ec7368',2004.5,2028.8],['NC','#6790cc',2036,2060]].forEach(function(e){
    const r=mk('rect',{x:1628.6,y:e[2],width:26,height:26,fill:e[1]},g);
    
    
    label('nes-legend-label',e[0],1667,e[3],36.5,'start','#000',1,g);
  });
})();
</script>
</body>
</html>
